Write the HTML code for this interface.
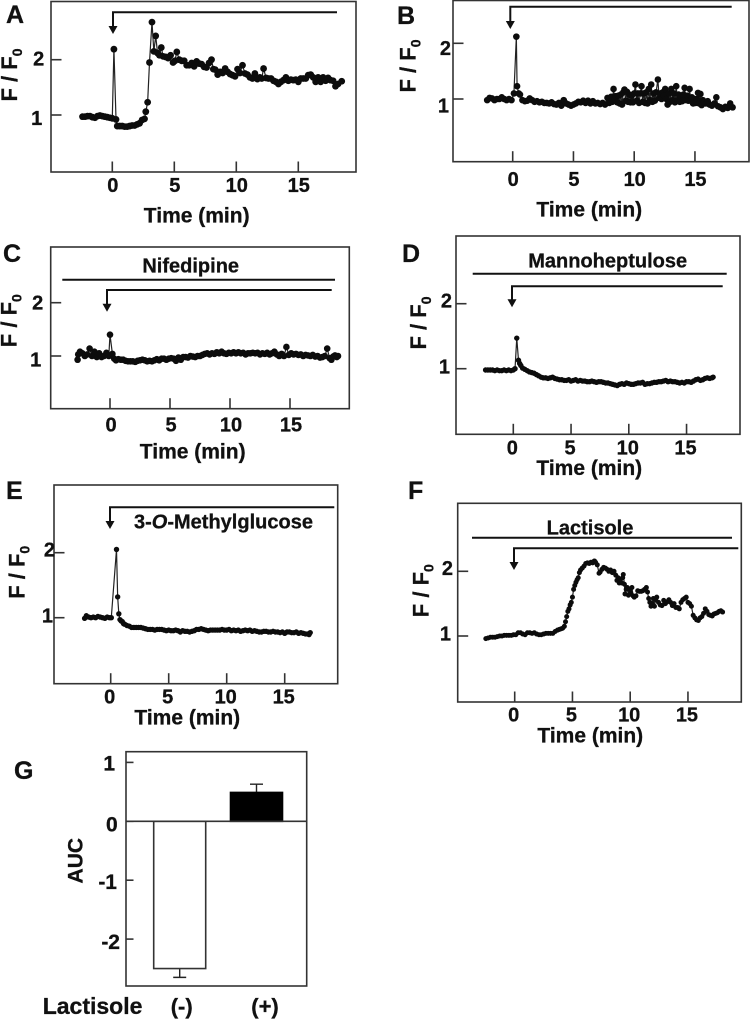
<!DOCTYPE html>
<html lang="en">
<head>
<meta charset="utf-8">
<title>Calcium response panels</title>
<style>
html,body{margin:0;padding:0;background:#fff;}
svg{display:block;filter:blur(.35px);}
text{font-family:"Liberation Sans",Arial,sans-serif;font-weight:bold;fill:#111;stroke:#111;stroke-width:.3px;}
.tick{font-size:20px;}
.axis{font-size:21px;}
.ratio{font-size:22px;}
.panel{font-size:25px;}
.note{font-size:20px;}
</style>
</head>
<body>
<svg id="figure" width="752" height="1019" viewBox="0 0 752 1019" xmlns="http://www.w3.org/2000/svg">
  <rect x="0" y="0" width="752" height="1019" fill="#fff"/>

  <text class="panel" x="6" y="23">A</text>
  <text class="panel" x="397" y="24">B</text>
  <text class="panel" x="3" y="262">C</text>
  <text class="panel" x="402" y="262">D</text>
  <text class="panel" x="6" y="499">E</text>
  <text class="panel" x="408" y="499">F</text>
  <text class="panel" x="14" y="779">G</text>

  <text class="axis" x="196.7" y="222.7" text-anchor="middle">Time (min)</text>
  <text class="axis" x="589.3" y="216.7" text-anchor="middle">Time (min)</text>
  <text class="axis" x="192.7" y="458.3" text-anchor="middle">Time (min)</text>
  <text class="axis" x="589.3" y="475" text-anchor="middle">Time (min)</text>
  <text class="axis" x="187.3" y="724.3" text-anchor="middle">Time (min)</text>
  <text class="axis" x="590.3" y="742.7" text-anchor="middle">Time (min)</text>

  <text class="ratio" text-anchor="middle" transform="translate(17 75) rotate(-90)">F / F<tspan dy="5" font-size="14">0</tspan></text>
  <text class="ratio" text-anchor="middle" transform="translate(415.3 66) rotate(-90)">F / F<tspan dy="5" font-size="14">0</tspan></text>
  <text class="ratio" text-anchor="middle" transform="translate(16.7 320.7) rotate(-90)">F / F<tspan dy="5" font-size="14">0</tspan></text>
  <text class="ratio" text-anchor="middle" transform="translate(426 323) rotate(-90)">F / F<tspan dy="5" font-size="14">0</tspan></text>
  <text class="ratio" text-anchor="middle" transform="translate(24.3 572.3) rotate(-90)">F / F<tspan dy="5" font-size="14">0</tspan></text>
  <text class="ratio" text-anchor="middle" transform="translate(428.3 590.7) rotate(-90)">F / F<tspan dy="5" font-size="14">0</tspan></text>

  <text class="note" x="190.7" y="272.3" text-anchor="middle">Nifedipine</text>
  <text class="note" x="607.7" y="267.3" text-anchor="middle">Mannoheptulose</text>
  <text class="note" x="134" y="528.3">3-<tspan font-style="italic">O</tspan>-Methylglucose</text>
  <text class="note" x="590" y="534.3" text-anchor="middle">Lactisole</text>

  <text class="axis" text-anchor="middle" transform="translate(82.7 860.7) rotate(-90)">AUC</text>
  <text x="42.7" y="1014" font-size="23">Lactisole</text>
</svg>

<script>
// ---------- shared axis ticks ----------
const timeTicks = [0, 5, 10, 15];
const ratioTicks = [1, 2];

// ---------- panel A ----------
const aTimes = [
  -2.4,-2.2,-2.0,-1.8,-1.6,-1.4,-1.2,-1.0,-0.8,-0.6,
  -0.4,-0.2,0,0.13,0.3,0.4,0.6,0.8,1.0,1.2,
  1.4,1.6,1.8,2.0,2.2,2.4,2.6,2.7,2.85,3.0,
  3.2,3.35,3.5,3.65,3.8,3.95,4.1,4.3,4.5,4.7,
  4.9,5.05,5.2,5.4,5.6,5.8,6.0,6.2,6.4,6.6,
  6.8,7.0,7.2,7.4,7.6,7.8,8.0,8.15,8.3,8.5,
  8.7,8.9,9.1,9.3,9.5,9.7,9.9,10.1,10.3,10.5,
  10.7,10.9,11.1,11.3,11.5,11.7,11.9,12.05,12.2,12.4,
  12.6,12.8,13,13.2,13.4,13.6,13.8,14,14.2,14.4,
  14.6,14.8,15,15.2,15.4,15.6,15.8,16,16.2,16.4,
  16.6,16.8,17,17.2,17.4,17.6,17.8,18,18.2,18.5];
const aRatios = [
  .97,.97,.98,.98,.96,.95,.98,.99,.98,.97,
  .96,.95,.94,2.19,.92,.80,.80,.80,.79,.79,
  .80,.81,.81,.83,.85,.91,.93,1.06,1.23,1.95,
  2.68,2.15,2.43,2.12,2.08,2.22,2.06,2.05,2.03,2.08,
  1.95,1.98,2.14,2.0,1.98,1.98,1.90,1.90,1.94,1.88,
  1.97,1.93,1.92,1.87,1.86,1.94,2.0,1.83,1.82,1.73,
  1.78,1.76,1.84,1.78,1.74,1.72,1.70,1.83,1.76,1.90,
  1.75,1.73,1.68,1.66,1.75,1.65,1.68,1.66,1.84,1.67,
  1.66,1.66,1.62,1.60,1.56,1.60,1.63,1.68,1.62,1.64,
  1.63,1.64,1.60,1.66,1.66,1.66,1.72,1.73,1.68,1.60,
  1.68,1.60,1.68,1.62,1.67,1.63,1.62,1.52,1.56,1.61];

// ---------- panel B ----------
const bTimes = [
  -2.1,-1.9,-1.7,-1.5,-1.3,-1.1,-0.9,-0.7,-0.5,-0.3,
  -0.1,0.1,0.3,0.36,0.5,0.6,0.8,1,1.2,1.4,
  1.6,1.8,2,2.2,2.4,2.6,2.8,3,3.2,3.4,
  3.6,3.8,4,4.2,4.4,4.6,4.8,5,5.2,5.4,
  5.6,5.8,6,6.2,6.4,6.6,6.8,7,7.2,7.4,
  7.6,7.8,7.95,8.1,8.2,8.3,8.4,8.5,8.6,8.7,
  8.8,8.9,9,9.1,9.2,9.3,9.4,9.5,9.6,9.7,
  9.8,9.9,10,10.1,10.2,10.3,10.4,10.5,10.6,10.7,
  10.8,10.9,11,11.1,11.2,11.3,11.4,11.5,11.6,11.7,
  11.8,11.95,12.05,12.15,12.25,12.35,12.45,12.55,12.65,12.75,
  12.85,12.95,13.05,13.15,13.25,13.35,13.46,13.55,13.65,13.75,
  13.85,13.95,14.05,14.15,14.25,14.35,14.45,14.56,14.65,14.75,
  14.85,14.95,15.05,15.15,15.25,15.35,15.45,15.55,15.65,15.75,
  15.9,16.05,16.2,16.4,16.6,16.76,16.9,17.1,17.3,17.5,
  17.7,17.9,18.1];
const bRatios = [
  .98,1.02,1.01,.98,1.0,1.0,1.03,1.0,.98,1.0,
  .98,1.1,2.12,1.23,1.1,1.08,.98,.96,.97,1.01,
  .98,.95,.96,.94,.95,.93,.93,.92,.94,.91,
  .9,.93,.88,.98,.92,.9,.88,.9,.92,.95,
  .94,.97,.93,.97,.92,.96,.92,.93,.91,.93,
  .9,1.02,.93,1.04,.95,1.18,1.0,1.05,.94,1.06,
  .92,1.08,.9,1.12,1.17,.97,1.13,.95,1.08,.94,
  1.06,.94,1.1,1.26,.97,1.1,.93,1.1,1.23,.95,
  1.1,.93,1.12,.92,1.18,.98,1.26,.95,1.1,.97,
  1.12,1.35,1.02,1.1,1.0,1.12,1.06,1.18,1.0,.9,
  1.1,.95,1.18,.98,1.1,.94,1.23,.98,1.08,.95,
  1.05,.96,1.08,1.2,.98,1.06,.97,1.18,.97,1.03,
  .92,1.0,.93,1.0,1.11,.92,1.09,.89,.98,.94,
  .92,.96,.9,.88,.92,1.03,.87,.85,.82,.86,
  .84,.92,.85];

// ---------- panel C ----------
const cTimes = [
  -2.7,-2.65,-2.5,-2.3,-2.1,-1.9,-1.7,-1.5,-1.3,-1.1,
  -0.9,-0.7,-0.5,-0.3,-0.1,0,0.2,0.35,0.5,0.7,
  0.9,1.1,1.3,1.5,1.7,1.9,2.1,2.3,2.5,2.7,
  2.9,3.1,3.3,3.5,3.7,3.9,4.1,4.3,4.5,4.7,
  4.9,5.1,5.3,5.5,5.7,5.9,6.1,6.3,6.5,6.7,
  6.9,7.1,7.3,7.5,7.7,7.9,8.1,8.3,8.5,8.7,
  8.9,9.1,9.3,9.5,9.7,9.9,10.1,10.3,10.5,10.7,
  10.9,11.1,11.3,11.5,11.7,11.9,12.1,12.3,12.5,12.7,
  12.9,13.1,13.3,13.5,13.7,13.9,14.1,14.3,14.5,14.7,
  14.9,15.1,15.3,15.5,15.7,15.9,16.1,16.3,16.5,16.7,
  16.9,17.1,17.3,17.5,17.7,17.9,18.1,18.3,18.45,18.6,
  18.75,18.9,19.0];
const cRatios = [
  .93,1.03,1.08,1.05,1.0,1.03,1.14,1.0,1.08,.98,
  1.05,.98,1.0,1.06,1.0,1.4,1.04,.95,.92,.94,
  .93,.93,.91,.9,.9,.9,.89,.91,.92,.93,
  .92,.9,.91,.9,.92,.94,.92,.95,.95,.93,
  .95,.96,.95,.91,.97,.93,.98,.98,.97,1.0,
  .99,.98,1.0,1.0,1.02,1.04,1.05,1.03,1.05,1.04,
  1.07,1.05,1.08,1.05,1.04,1.06,1.05,1.07,1.05,1.07,
  1.05,1.06,1.03,1.05,1.05,1.06,1.05,1.06,1.03,1.05,
  1.04,1.06,1.03,1.05,1.08,1.03,1.0,1.04,1.0,1.17,
  1.02,1.05,1.03,1.04,1.02,1.03,1.0,1.02,1.01,1.0,
  1.02,.99,1.0,.97,.98,1.0,1.14,.96,.93,.99,
  1.01,.98,1.0];

// ---------- panel D ----------
const dTimes = [
  -2.4,-2.2,-2,-1.8,-1.6,-1.4,-1.2,-1,-.8,-.6,
  -.4,-.2,0,.15,.3,.45,.55,.65,.8,1,
  1.2,1.4,1.6,1.8,2,2.2,2.4,2.6,2.8,3,
  3.2,3.4,3.6,3.8,4,4.2,4.4,4.6,4.8,5,
  5.2,5.4,5.6,5.8,6,6.2,6.4,6.6,6.8,7,
  7.2,7.4,7.6,7.8,8,8.2,8.4,8.6,8.8,9,
  9.2,9.4,9.6,9.8,10,10.2,10.4,10.6,10.8,11,
  11.2,11.4,11.6,11.8,12,12.2,12.4,12.6,12.8,13,
  13.2,13.4,13.6,13.8,14,14.2,14.4,14.6,14.8,15,
  15.2,15.4,15.6,15.8,16,16.2,16.4,16.6,16.8,17,
  17.2,17.3];
const dRatios = [
  .98,.98,.98,.98,.97,.98,.97,.97,.98,.97,
  .98,.97,.98,1.0,1.47,1.13,1.08,1.05,1.01,.99,
  .97,.95,.94,.93,.91,.89,.87,.86,.86,.85,
  .86,.87,.85,.84,.83,.83,.82,.82,.83,.81,
  .82,.83,.81,.82,.81,.81,.80,.80,.81,.80,
  .79,.80,.80,.79,.78,.78,.77,.76,.75,.74,
  .76,.77,.76,.78,.77,.76,.76,.77,.78,.78,
  .79,.76,.77,.77,.78,.79,.79,.80,.80,.81,
  .82,.80,.81,.80,.80,.79,.78,.79,.78,.80,
  .80,.79,.81,.83,.84,.82,.83,.85,.86,.85,
  .86,.87];

// ---------- panel E ----------
const eTimes = [
  -2.25,-2.1,-1.9,-1.7,-1.5,-1.3,-1.1,-.9,-.7,-.5,
  -.3,-.1,.05,.5,.6,.7,.8,.9,1,1.1,
  1.2,1.4,1.6,1.8,2,2.2,2.4,2.6,2.8,3,
  3.2,3.4,3.6,3.8,4,4.2,4.4,4.6,4.8,5,
  5.2,5.4,5.6,5.8,6,6.2,6.4,6.6,6.8,7,
  7.2,7.4,7.6,7.8,8,8.2,8.4,8.6,8.8,9,
  9.2,9.4,9.6,9.8,10,10.2,10.4,10.6,10.8,11,
  11.2,11.4,11.6,11.8,12,12.2,12.4,12.6,12.8,13,
  13.2,13.4,13.6,13.8,14,14.2,14.4,14.6,14.8,15,
  15.2,15.4,15.6,15.8,16,16.2,16.4,16.6,16.8,17,
  17.1,17.2];
const eRatios = [
  .99,1.03,1.01,1.0,1.01,1.0,1.02,1.01,1.0,.99,
  1.01,1.0,1.0,2.05,1.32,1.06,.97,.95,.94,.91,
  .90,.88,.87,.85,.85,.85,.85,.85,.84,.83,
  .82,.82,.82,.81,.82,.82,.82,.81,.80,.81,
  .80,.80,.81,.80,.78,.80,.79,.79,.78,.79,
  .80,.82,.82,.83,.82,.81,.80,.81,.81,.81,
  .81,.81,.82,.81,.81,.82,.80,.81,.80,.81,
  .79,.80,.81,.80,.81,.79,.80,.79,.78,.78,
  .79,.79,.78,.78,.79,.78,.78,.77,.78,.76,
  .78,.78,.77,.77,.78,.76,.77,.76,.75,.75,
  .74,.77];

// ---------- panel F ----------
const fTimes = [
  -2.5,-2.3,-2.1,-1.9,-1.7,-1.5,-1.3,-1.1,-.9,-.7,
  -.5,-.3,-.1,.1,.3,.5,.7,.9,1.1,1.3,
  1.5,1.7,1.9,2.1,2.3,2.5,2.7,2.9,3.1,3.3,
  3.5,3.7,3.85,4,4.15,4.3,4.4,4.5,4.6,4.7,
  4.8,4.9,5,5.1,5.2,5.3,5.4,5.5,5.6,5.7,
  5.85,6,6.15,6.3,6.45,6.6,6.75,6.9,7,7.15,
  7.3,7.4,7.55,7.7,7.85,8,8.15,8.3,8.45,8.6,
  8.75,8.85,8.95,9.05,9.15,9.25,9.35,9.4,9.5,9.55,
  9.65,9.75,9.85,9.95,10.05,10.15,10.25,10.35,10.5,10.65,
  10.8,10.95,11.1,11.25,11.4,11.5,11.6,11.7,11.8,11.9,
  12,12.1,12.2,12.3,12.45,12.6,12.75,12.9,13.05,13.2,
  13.35,13.5,13.65,13.8,13.95,14.1,14.25,14.4,14.55,14.7,
  14.85,15,15.15,15.3,15.45,15.6,15.75,15.9,16.05,16.2,
  16.35,16.5,16.65,16.8,16.95,17.1,17.25,17.4,17.55,17.7,
  17.85,18];
const fRatios = [
  .96,.97,.98,.98,.98,.99,1.0,1.0,1.01,1.01,
  1.01,1.01,1.02,1.02,1.05,1.05,1.03,1.02,1.05,1.05,
  1.04,1.05,1.03,1.02,1.02,1.03,1.04,1.04,1.04,1.04,
  1.07,1.09,1.1,1.11,1.12,1.15,1.22,1.3,1.38,1.42,
  1.48,1.52,1.6,1.72,1.78,1.83,1.87,1.9,1.98,2.02,
  2.05,2.08,2.12,2.13,2.12,2.14,2.13,2.16,2.14,2.1,
  1.97,1.99,2.03,2.06,2.05,2.03,2.0,2.02,1.98,2.0,
  1.94,1.86,1.9,1.82,1.88,1.82,1.9,1.95,1.8,1.65,
  1.72,1.75,1.63,1.72,1.66,1.75,1.62,1.6,1.62,1.7,
  1.69,1.69,1.7,1.72,1.75,1.68,1.58,1.52,1.46,1.5,
  1.58,1.46,1.56,1.6,1.52,1.48,1.47,1.55,1.5,1.53,
  1.56,1.52,1.47,1.5,1.44,1.44,1.42,1.52,1.56,1.58,
  1.6,1.52,1.5,1.46,1.32,1.28,1.25,1.24,1.28,1.3,
  1.35,1.42,1.38,1.33,1.32,1.31,1.34,1.35,1.36,1.38,
  1.39,1.37];

// ---------- panel G ----------
const aucCategories = ['(-)', '(+)'];
const aucMeans = [-2.5, 0.49];
const aucErrors = [0.15, 0.14];
const aucTicks = [1, 0, -1, -2];

// ---------- drawing ----------
const SVGNS = 'http://www.w3.org/2000/svg';
const INK = '#222';
const FRAME = '#333';
const figure = document.getElementById('figure');

function make(tag, attrs) {
  const el = document.createElementNS(SVGNS, tag);
  for (const key in attrs) el.setAttribute(key, attrs[key]);
  return el;
}

const panelLayouts = {
  a: { times: aTimes, ratios: aRatios, left: 51, right: 356, top: 1.5, bottom: 172,
       x0: 112.3, pxPerMin: 12.4, y1: 115, pxPerUnit: 55.3, dot: 3.4,
       xBase: 192, xShift: 0.5, yEnd: 44.3, yDrop: [10, 6],
       bracket: { y: 12.3, from: 113, to: 337, tip: 34 } },
  b: { times: bTimes, ratios: bRatios, left: 453, right: 749, top: 0.5, bottom: 161.7,
       x0: 512.7, pxPerMin: 12.15, y1: 99, pxPerUnit: 55.7, dot: 3.3,
       xBase: 186, xShift: 0.5, yEnd: 451, yDrop: [13.7, 11.7],
       bracket: { y: 6.7, from: 510.3, to: 731.7, tip: 29 } },
  c: { times: cTimes, ratios: cRatios, left: 50.7, right: 349.3, top: 247, bottom: 408.7,
       x0: 110, pxPerMin: 12, y1: 356, pxPerUnit: 53.3, dot: 3.3,
       xBase: 431.7, xShift: 1, yEnd: 43.3, yDrop: [10.7, 7],
       bar: { y: 279.7, from: 62.3, to: 335 },
       bracket: { y: 290, from: 107, to: 331.7, tip: 311.7 } },
  d: { times: dTimes, ratios: dRatios, left: 456, right: 740, top: 236, bottom: 434.3,
       x0: 513.3, pxPerMin: 11.55, y1: 368.7, pxPerUnit: 65, dot: 2.7,
       xBase: 454.3, xShift: -1, yEnd: 452, yDrop: [5, 4],
       bar: { y: 273.7, from: 472.7, to: 726.7 },
       bracket: { y: 286.3, from: 512, to: 722.7, tip: 307.3 } },
  e: { times: eTimes, ratios: eRatios, left: 54, right: 337.7, top: 485, bottom: 683.7,
       x0: 110.7, pxPerMin: 11.6, y1: 617.7, pxPerUnit: 65, dot: 2.7,
       xBase: 703.7, xShift: -1, yEnd: 55, yDrop: [5, 4],
       bracket: { y: 507.3, from: 110, to: 334.3, tip: 529 } },
  f: { times: fTimes, ratios: fRatios, left: 457.7, right: 741.3, top: 503.3, bottom: 702,
       x0: 514.7, pxPerMin: 11.55, y1: 636, pxPerUnit: 64.7, dot: 2.5,
       xBase: 721.7, xShift: -1, yEnd: 453, yDrop: [4.7, 3.7],
       bar: { y: 537.7, from: 472, to: 732 },
       bracket: { y: 548.3, from: 514, to: 738.3, tip: 570 } }
};

function drawPanel(id, p) {
  const xScale = function (t) { return p.x0 + t * p.pxPerMin; };
  const yScale = function (v) { return p.y1 - (v - 1) * p.pxPerUnit; };

  const group = make('g', {});
  
  
  figure.appendChild(group);

  const frame = make('rect', { x: p.left, y: p.top, width: p.right - p.left, height: p.bottom - p.top,
    fill: 'none', stroke: FRAME, 'stroke-width': 1.6 });
  
  
  group.appendChild(frame);

  timeTicks.forEach(function (value) {
    const tick = make('line', { x1: xScale(value), x2: xScale(value), y1: p.bottom, y2: p.bottom - 10.5,
      stroke: FRAME, 'stroke-width': 1.6 });
    
    
    group.appendChild(tick);

    const label = make('text', { class: 'tick', x: xScale(value) + p.xShift, y: p.xBase, 'text-anchor': 'middle' });
    label.textContent = String(value);
    
    
    group.appendChild(label);
  });

  ratioTicks.forEach(function (value, i) {
    const tick = make('line', { x1: p.left, x2: p.left + 10.5, y1: yScale(value), y2: yScale(value),
      stroke: FRAME, 'stroke-width': 1.6 });
    
    
    group.appendChild(tick);

    const label = make('text', { class: 'tick', x: p.yEnd - (value === 1 ? 2 : 0), y: yScale(value) + p.yDrop[i], 'text-anchor': 'end' });
    label.textContent = String(value);
    
    
    group.appendChild(label);
  });

  if (p.bar) {
    const bar = make('line', { x1: p.bar.from, x2: p.bar.to, y1: p.bar.y, y2: p.bar.y, stroke: '#111', 'stroke-width': 2 });
    
    
    group.appendChild(bar);
  }

  const b = p.bracket;
  const bracket = make('path', { d: 'M' + b.to + ' ' + b.y + 'H' + b.from + 'V' + (b.tip - 6),
    fill: 'none', stroke: '#111', 'stroke-width': 2 });
  
  
  group.appendChild(bracket);

  const head = make('polygon', { points: (b.from - 4.5) + ',' + (b.tip - 8) + ' ' + (b.from + 4.5) + ',' + (b.tip - 8) + ' ' + b.from + ',' + b.tip, fill: '#111' });
  
  
  group.appendChild(head);

  const linePoints = p.times.map(function (t, i) { return xScale(t) + ',' + yScale(p.ratios[i]); }).join(' ');
  const trace = make('polyline', { points: linePoints, fill: 'none', stroke: '#222', 'stroke-width': 1.2 });
  
  
  group.appendChild(trace);

  p.times.forEach(function (t, i) {
    const dot = make('circle', { cx: xScale(t), cy: yScale(p.ratios[i]), r: p.dot, fill: '#0c0c0c' });
    
    
    group.appendChild(dot);
  });
}

for (const id in panelLayouts) drawPanel(id, panelLayouts[id]);

// ---------- bar chart G ----------
(function drawBars() {
  const left = 126, right = 306.7, top = 751.7, bottom = 986;
  const zeroY = 821.3, pxPerUnit = 58.9;
  const bandLeft = 141.3, bandWidth = 76.8, barWidth = 52;
  const yScale = function (v) { return zeroY - v * pxPerUnit; };
  const xCentre = function (i) { return bandLeft + bandWidth * (i + 0.5); };
  const labelShift = [2, 8.5];
  const tickEnds = [115, 117.7, 117, 120];
  const tickDrops = [8, 10.4, 8.6, 10];

  const group = make('g', {});
  
  
  figure.appendChild(group);

  const frame = make('rect', { x: left, y: top, width: right - left, height: bottom - top, fill: 'none', stroke: FRAME, 'stroke-width': 1.6 });
  
  
  group.appendChild(frame);

  aucTicks.forEach(function (value, i) {
    const tick = make('line', { x1: left, x2: left + 7.5, y1: yScale(value), y2: yScale(value), stroke: FRAME, 'stroke-width': 1.6 });
    
    
    group.appendChild(tick);

    const label = make('text', { x: tickEnds[i], y: yScale(value) + tickDrops[i], 'text-anchor': 'end', 'font-size': 21 });
    label.textContent = String(value);
    
    
    group.appendChild(label);
  });

  aucMeans.forEach(function (mean, i) {
    const cx = xCentre(i);
    const tipValue = mean < 0 ? mean - aucErrors[i] : mean + aucErrors[i];

    const whisker = make('path', { d: 'M' + cx + ' ' + yScale(mean) + 'V' + yScale(tipValue) + 'M' + (cx - 6.5) + ' ' + yScale(tipValue) + 'H' + (cx + 6.5),
      fill: 'none', stroke: INK, 'stroke-width': 1.4 });
    
    
    group.appendChild(whisker);

    const rect = make('rect', { x: cx - barWidth / 2, y: Math.min(yScale(mean), zeroY), width: barWidth, height: Math.abs(yScale(mean) - zeroY),
      fill: mean < 0 ? '#fff' : '#000', stroke: mean < 0 ? FRAME : '#000', 'stroke-width': 1.6 });
    
    
    group.appendChild(rect);

    const label = make('text', { x: cx + labelShift[i], y: 1014, 'text-anchor': 'middle', 'font-size': 22 });
    label.textContent = aucCategories[i];
    
    
    group.appendChild(label);
  });

  const zeroLine = make('line', { x1: left, x2: right, y1: zeroY, y2: zeroY, stroke: FRAME, 'stroke-width': 1.6 });
  
  
  group.appendChild(zeroLine);
})();
</script>
</body>
</html>
